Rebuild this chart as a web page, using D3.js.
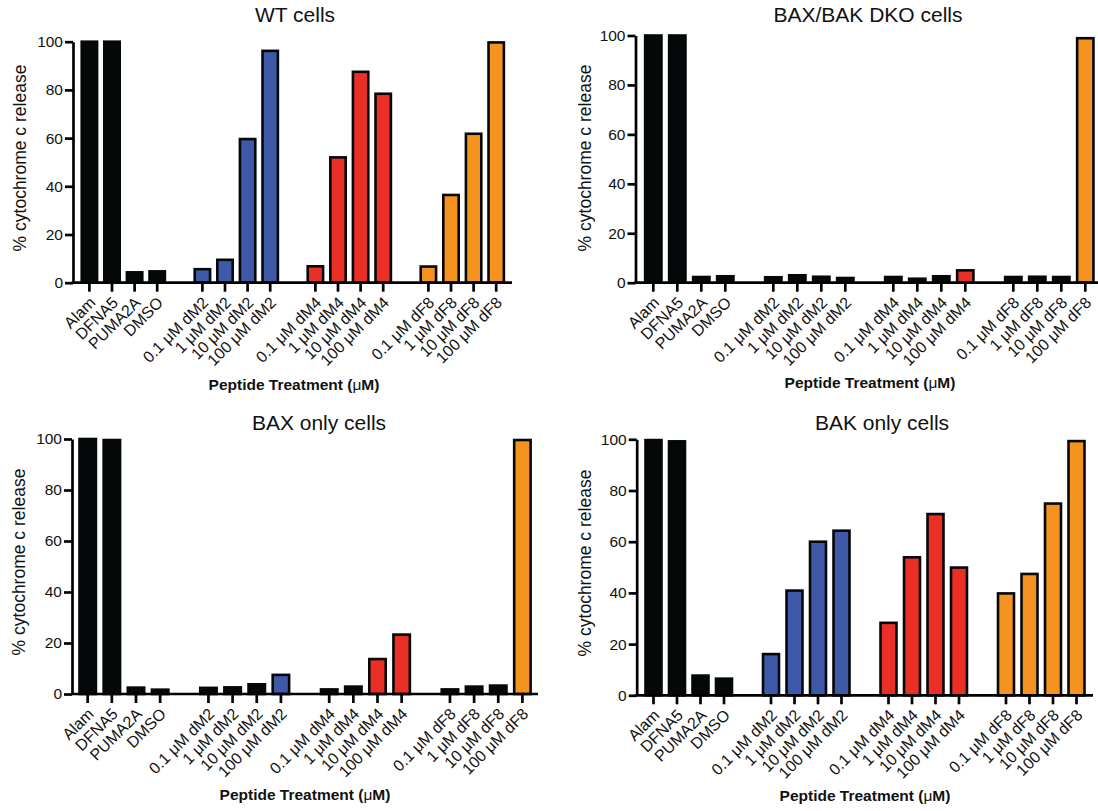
<!DOCTYPE html>
<html>
<head>
<meta charset="utf-8">
<script src="https://cdn.jsdelivr.net/npm/d3@7"></script>
<style>
  body { margin: 0; background: #fff; }
  svg { display: block; font-family: "Liberation Sans", Arial, Helvetica, sans-serif; }
</style>
</head>
<body>
<svg id="chart" width="1098" height="811"></svg>
<script>
// categories, in plotting order (gaps separate the groups)
const controls = ["Alam", "DFNA5", "PUMA2A", "DMSO"];
const dM2 = ["0.1 μM dM2", "1 μM dM2", "10 μM dM2", "100 μM dM2"];
const dM4 = ["0.1 μM dM4", "1 μM dM4", "10 μM dM4", "100 μM dM4"];
const dF8 = ["0.1 μM dF8", "1 μM dF8", "10 μM dF8", "100 μM dF8"];
const slots = [...controls, "gap1", ...dM2, "gap2", ...dM4, "gap3", ...dF8];
const yTicks = [0, 20, 40, 60, 80, 100];

// % cytochrome c release, same order as controls, dM2, dM4, dF8
const wtValues     = [100, 100, 4.3, 4.7,  5.6, 9.5, 59.6, 96.2,  6.8, 52, 87.5, 78.4,  6.7, 36.4, 61.8, 99.7];
const dkoValues    = [100, 100, 2.3, 2.6,  2.2, 3.0, 2.4, 1.9,    2.3, 1.6, 2.6, 5.0,    2.3, 2.4, 2.3, 98.9];
const baxOnlyValues = [100, 99.6, 2.5, 1.7, 2.4, 2.6, 3.8, 7.5,   1.8, 2.9, 13.7, 23.3,  1.8, 2.9, 3.3, 99.6];
const bakOnlyValues = [99.7, 99.2, 7.7, 6.5, 16.1, 40.9, 60.0, 64.3, 28.3, 53.9, 70.8, 49.9, 39.8, 47.4, 74.9, 99.3];

const titles = ["WT cells", "BAX/BAK DKO cells", "BAX only cells", "BAK only cells"];

const colors = { controls: "#050808", dM2: "#3d59a7", dM4: "#ea2f27", dF8: "#f59320" };

// panel placement on the page
const panels = [
  { values: wtValues, title: titles[0], axisX: 73, y0: 282.7, y100: 41.7, c0: 89.4, step: 22.6, end: 512,
    titleX: 295, titleY: 22, labX: 20, labY: 158, xtX: 294, xtY: 390 },
  { values: dkoValues, title: titles[1], axisX: 635.5, y0: 282.7, y100: 35.5, c0: 653.3, step: 24.0, end: 1100,
    titleX: 868, titleY: 22, labX: 585, labY: 158, xtX: 870, xtY: 388 },
  { values: baxOnlyValues, title: titles[2], axisX: 72, y0: 694, y100: 439, c0: 87.7, step: 24.15, end: 538,
    titleX: 319, titleY: 430, labX: 19, labY: 562, xtX: 305, xtY: 800 },
  { values: bakOnlyValues, title: titles[3], axisX: 636.7, y0: 695.3, y100: 439.3, c0: 653.5, step: 23.5, end: 1093,
    titleX: 882, titleY: 430, labX: 585, labY: 563, xtX: 865, xtY: 801 }
];

const labels = [...controls, ...dM2, ...dM4, ...dF8];
const groupOf = c => controls.includes(c) ? "controls" : dM2.includes(c) ? "dM2" : dM4.includes(c) ? "dM4" : "dF8";

const svg = d3.select("#chart");

panels.forEach(p => {
  const g = svg.append("g");

  const x = d3.scaleBand()
    .domain(slots)
    .range([p.c0 - p.step / 2, p.c0 + p.step * (slots.length - 0.5)])
    .paddingInner(0.32)
    .paddingOuter(0.16);

  const y = d3.scaleLinear().domain([0, 100]).range([p.y0, p.y100]);

  const data = labels.map((c, i) => ({ cat: c, v: p.values[i], group: groupOf(c) }));

  // bars
  g.selectAll("rect.bar")
    .data(data)
    .enter()
    .append("rect")
    .attr("class", "bar")
    .attr("x", d => x(d.cat))
    .attr("width", x.bandwidth())
    .attr("y", d => y(d.v))
    .attr("height", d => y(0) - y(d.v))
    .attr("fill", d => (d.group === "controls" || d.v < 4.5) ? colors.controls : colors[d.group])
    .attr("stroke", "#050808")
    .attr("stroke-width", 2.6);

  // y axis
  const yAxis = g.append("g")
    .attr("transform", "translate(" + p.axisX + ",0)")
    .call(d3.axisLeft(y).tickValues(yTicks).tickSize(8).tickSizeOuter(0).tickPadding(2));
  yAxis.selectAll("path, line").attr("stroke", "#000").attr("stroke-width", 2.7);
  yAxis.selectAll("text").attr("font-size", 15.5).attr("fill", "#111");

  // x axis: baseline drawn by hand so it starts at the y axis
  g.append("line")
    .attr("x1", p.axisX - 1.3).attr("x2", p.end)
    .attr("y1", y(0)).attr("y2", y(0))
    .attr("stroke", "#000").attr("stroke-width", 2.7);

  const xAxis = g.append("g")
    .attr("transform", "translate(0," + y(0) + ")")
    .call(d3.axisBottom(x).tickValues(labels).tickSize(9).tickSizeOuter(0));
  xAxis.select(".domain").remove();
  xAxis.selectAll("line").attr("stroke", "#000").attr("stroke-width", 2.7);
  xAxis.selectAll("text")
    .attr("y", null)
    .attr("dy", "0.35em")
    .attr("text-anchor", "end")
    .attr("font-size", 16)
    .attr("fill", "#111")
    .attr("transform", "translate(3,17) rotate(-45)");

  // title
  g.append("text")
    .attr("x", p.titleX).attr("y", p.titleY)
    .attr("text-anchor", "middle")
    .attr("font-size", 21)
    .attr("fill", "#111")
    .text(p.title);

  // y label
  g.append("text")
    .attr("transform", "translate(" + p.labX + "," + p.labY + ") rotate(-90)")
    .attr("dy", "0.35em")
    .attr("text-anchor", "middle")
    .attr("font-size", 17.5)
    .attr("fill", "#111")
    .text("% cytochrome c release");

  // x title
  const xt = g.append("text")
    .attr("x", p.xtX).attr("y", p.xtY)
    .attr("text-anchor", "middle")
    .attr("font-size", 15.5)
    .attr("font-weight", "bold")
    .attr("fill", "#111");
  xt.append("tspan").text("Peptide Treatment (");
  xt.append("tspan").attr("font-weight", "normal").text("μ");
  xt.append("tspan").text("M)");
});
</script>
</body>
</html>
